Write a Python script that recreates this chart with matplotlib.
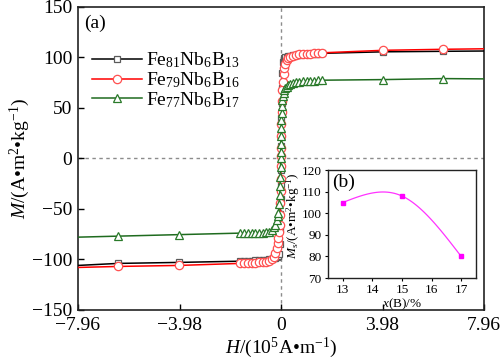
import numpy as np
import matplotlib
matplotlib.use("Agg")
import matplotlib.pyplot as plt

plt.rcParams['font.family'] = ['Liberation Serif', 'DejaVu Serif']
plt.rcParams['mathtext.fontset'] = 'custom'
plt.rcParams['mathtext.rm'] = 'Liberation Serif'
plt.rcParams['mathtext.it'] = 'Liberation Serif:italic'
plt.rcParams['axes.unicode_minus'] = True

# ---- data (main panel) ----
H_pts = [-7.96, -6.39, -4.00, -1.60, -1.45, -1.30, -1.15, -1.00, -0.86, -0.72, -0.58,
         -0.46, -0.36, -0.28, -0.22, -0.17, -0.13, -0.10, -0.07, -0.05, -0.035, -0.025,
         -0.018, -0.012, -0.006, 0.0, 0.006, 0.012, 0.018, 0.025, 0.035, 0.05, 0.07,
         0.10, 0.13, 0.17, 0.22, 0.28, 0.36, 0.46, 0.58, 0.72, 0.86, 1.00, 1.15, 1.30,
         1.45, 1.60, 4.00, 6.35, 7.96]

M_fe81 = [-106.0, -104.0, -103.0, -101.8, -101.6, -101.4, -101.2, -101.0, -100.8, -100.5,
          -100.2, -99.8, -99.3, -98.8, -98.2, -97.6, -97.0, -96.3, -95.0, -85.0, -70.0,
          -55.0, -40.0, -25.0, -12.0, 0.0, 12.0, 25.0, 40.0, 55.0, 70.0, 85.0, 95.0,
          97.5, 99.0, 100.0, 100.7, 101.2, 101.7, 102.1, 102.5, 102.8, 103.0, 103.2,
          103.4, 103.6, 103.8, 104.0, 105.5, 106.0, 106.3]

M_fe79 = [-108.0, -107.0, -106.0, -104.0, -103.8, -103.6, -103.4, -103.2, -103.0, -102.7,
          -102.3, -101.5, -100.0, -97.5, -94.0, -89.0, -84.0, -79.0, -73.0, -66.0, -56.0,
          -44.0, -32.0, -20.0, -8.0, 2.0, 10.0, 22.0, 34.0, 46.0, 57.0, 68.0, 76.0, 84.0,
          89.0, 93.5, 97.0, 99.0, 100.5, 101.7, 102.5, 103.0, 103.3, 103.6, 103.8, 104.0,
          104.2, 104.5, 107.0, 108.0, 108.5]

M_fe77 = [-78.0, -77.0, -75.5, -74.0, -73.9, -73.8, -73.7, -73.6, -73.5, -73.4, -73.2,
          -72.5, -70.5, -68.0, -65.5, -61.0, -57.0, -54.0, -45.0, -36.0, -27.0, -18.0,
          -9.0, 0.0, 6.0, 14.0, 22.0, 30.0, 38.0, 45.0, 52.0, 58.0, 62.0, 65.0, 67.5,
          69.5, 71.0, 72.5, 74.0, 75.0, 75.6, 76.0, 76.3, 76.6, 76.8, 77.0, 77.2, 77.4,
          78.0, 79.0, 78.7]

labels = ['Fe$_{81}$Nb$_{6}$B$_{13}$', 'Fe$_{79}$Nb$_{6}$B$_{16}$', 'Fe$_{77}$Nb$_{6}$B$_{17}$']
xticks = [-7.96, -3.98, 0, 3.98, 7.96]
xticklabels = ['\u22127.96', '\u22123.98', '0', '3.98', '7.96']
yticks = [-150, -100, -50, 0, 50, 100, 150]

# ---- data (inset) ----
xB = [13, 15, 17]
Ms = [105, 108, 80]

fig = plt.figure(figsize=(5.0, 3.62), dpi=100)
ax = fig.add_axes([0.156, 0.144, 0.812, 0.837])

ax.axhline(0, color='#8c8c8c', lw=1.0, ls=(0, (2.5, 2.5)), zorder=1)
ax.axvline(0, color='#8c8c8c', lw=1.0, ls=(0, (2.5, 2.5)), zorder=1)

mk = list(range(1, len(H_pts) - 1))
ax.plot(H_pts, M_fe81, color='black', lw=1.1, marker='s', ms=5, mfc='white',
        mec='#5a5a5a', mew=0.9, markevery=mk, label=labels[0], zorder=3)
ax.plot(H_pts, M_fe79, color='#ff0000', lw=1.1, marker='o', ms=6, mfc='white',
        mec='#ff5050', mew=0.9, markevery=mk, label=labels[1], zorder=4)
ax.plot(H_pts, M_fe77, color='#1f6b1f', lw=1.1, marker='^', ms=6, mfc='white',
        mec='#2a7a2a', mew=0.9, markevery=mk, label=labels[2], zorder=5)

ax.set_xlim(-7.96, 7.96)
ax.set_ylim(-150, 150)
ax.set_xticks(xticks)
ax.set_xticklabels(xticklabels)
ax.set_yticks(yticks)
ax.tick_params(direction='in', labelsize=14, length=4, width=1, top=False, right=False)
ax.tick_params(axis='y', pad=4)
ax.tick_params(axis='x', pad=5)
for s in ax.spines.values():
    s.set_linewidth(1.2)
    s.set_color('#222222')

ax.set_xlabel(r'$H$/(10$^{5}$A•m$^{-1}$)', fontsize=14, labelpad=1)
ax.set_ylabel(r'$M$/(A•m$^{2}$•kg$^{-1}$)', fontsize=14, labelpad=0)
ax.text(0.015, 0.975, '(a)', transform=ax.transAxes, fontsize=14, ha='left', va='top')

leg = ax.legend(loc='upper left', bbox_to_anchor=(0.0, 0.90), frameon=False, fontsize=14,
                handlelength=2.6, handletextpad=0.2, labelspacing=0.0, borderaxespad=0.3)

# ---- inset ----
ins = fig.add_axes([0.656, 0.232, 0.296, 0.298])
# natural cubic spline through the three points
xs = np.array(xB, float)
ys = np.array(Ms, float)
h = np.diff(xs)
n = len(xs)
A = np.zeros((n, n)); rhs = np.zeros(n)
A[0, 0] = 1; A[-1, -1] = 1
for i in range(1, n - 1):
    A[i, i - 1] = h[i - 1]; A[i, i] = 2 * (h[i - 1] + h[i]); A[i, i + 1] = h[i]
    rhs[i] = 6 * ((ys[i + 1] - ys[i]) / h[i] - (ys[i] - ys[i - 1]) / h[i - 1])
Mc = np.linalg.solve(A, rhs)
xx = []; yy = []
for i in range(n - 1):
    t = np.linspace(xs[i], xs[i + 1], 60)
    s = (Mc[i] * (xs[i + 1] - t) ** 3 / (6 * h[i]) + Mc[i + 1] * (t - xs[i]) ** 3 / (6 * h[i])
         + (ys[i] / h[i] - Mc[i] * h[i] / 6) * (xs[i + 1] - t)
         + (ys[i + 1] / h[i] - Mc[i + 1] * h[i] / 6) * (t - xs[i]))
    xx.extend(t); yy.extend(s)
ins.plot(xx, yy, color='#ff33ff', lw=0.9)
ins.plot(xB, Ms, ls='none', marker='s', ms=2.5, color='#ff00ff')
ins.set_xlim(12.5, 17.5)
ins.set_ylim(70, 120)
ins.set_xticks([13, 14, 15, 16, 17])
ins.set_yticks([70, 80, 90, 100, 110, 120])
ins.tick_params(direction='out', labelsize=9.5, length=2.5, width=0.8, pad=2)
for s in ins.spines.values():
    s.set_linewidth(1.0)
    s.set_color('#222222')
ins.set_xlabel(r'$x$(B)/%', fontsize=9.5, labelpad=0)
ins.set_ylabel(r'$M_{\rm s}$/(A•m$^{2}$•kg$^{-1}$)', fontsize=9.5)
ins.yaxis.set_label_coords(-0.175, 0.58)
ins.text(0.03, 0.97, '(b)', transform=ins.transAxes, fontsize=14, ha='left', va='top')

fig.savefig('out.png', dpi=100)
